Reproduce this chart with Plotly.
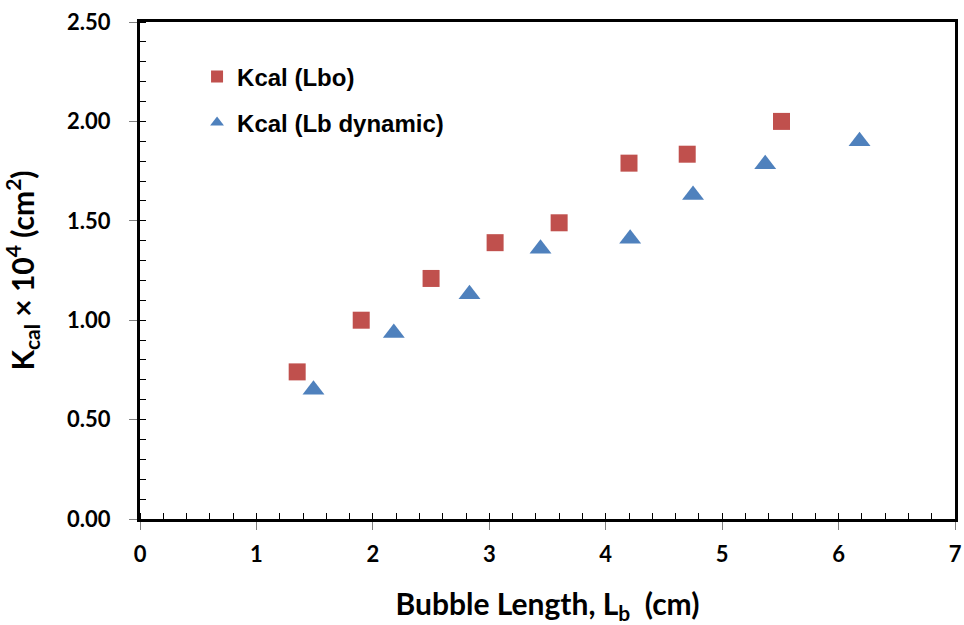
import plotly.graph_objects as go

# Calculated permeability vs bubble length
lbo_length = [1.35, 1.90, 2.50, 3.05, 3.60, 4.20, 4.70, 5.51]
lbo_kcal = [0.74, 1.00, 1.21, 1.39, 1.49, 1.79, 1.835, 2.00]

dyn_length = [1.49, 2.18, 2.83, 3.44, 4.21, 4.75, 5.37, 6.18]
dyn_kcal = [0.65, 0.935, 1.13, 1.36, 1.41, 1.63, 1.785, 1.90]

x_ticks = [0, 1, 2, 3, 4, 5, 6, 7]
y_ticks = [0.0, 0.5, 1.0, 1.5, 2.0, 2.5]

fig = go.Figure()
fig.add_trace(go.Scatter(
    x=lbo_length, y=lbo_kcal, mode="markers", name="Kcal (Lbo)", legendgroup="a",
    marker=dict(symbol="square", size=17, color="#C0504D"),
))
fig.add_trace(go.Scatter(
    x=dyn_length, y=dyn_kcal, mode="markers", name="Kcal (Lb dynamic)", legendgroup="b",
    marker=dict(symbol="triangle-up", size=19, color="#4F81BD"),
))

tick_font = dict(family="Lato", size=22, color="black", weight="bold")
title_font = dict(family="Lato", size=30, color="black", weight="bold")

fig.update_layout(
    width=964, height=625,
    margin=dict(l=140, r=9, t=22, b=106, autoexpand=False),
    paper_bgcolor="white", plot_bgcolor="white",
    showlegend=True,
    legend=dict(
        x=0.07, y=0.935, xanchor="left", yanchor="top",
        bgcolor="rgba(0,0,0,0)",
        font=dict(family="Liberation Sans", size=24, color="black", weight="bold"),
        itemsizing="constant", tracegroupgap=12, itemwidth=30,
    ),
    xaxis=dict(
        range=[0, 7], tickvals=x_ticks, ticktext=[str(v) for v in x_ticks],
        showgrid=False, zeroline=False, automargin=False,
        showline=True, linecolor="black", linewidth=3, mirror=True,
        ticks="outside", ticklen=8, tickcolor="#808080", tickwidth=1,
        ticklabelstandoff=6,
        minor=dict(dtick=0.2, ticks="inside", ticklen=6, tickcolor="black", tickwidth=1, showgrid=False),
        tickfont=tick_font,
        title=dict(text="Bubble Length, L<sub>b</sub>  (cm)", font=title_font, standoff=32),
    ),
    yaxis=dict(
        range=[0, 2.5], tickvals=y_ticks, ticktext=[f"{v:.2f}" for v in y_ticks],
        showgrid=False, zeroline=False, automargin=False,
        showline=True, linecolor="black", linewidth=3, mirror=True,
        ticks="outside", ticklen=8, tickcolor="#808080", tickwidth=1,
        ticklabelstandoff=14,
        minor=dict(dtick=0.1, ticks="inside", ticklen=6, tickcolor="black", tickwidth=1, showgrid=False),
        tickfont=tick_font,
        title=dict(text="K<sub>cal</sub> × 10<sup>4</sup> (cm<sup>2</sup>)", font=title_font, standoff=34),
    ),
)

fig.write_html("out.html")
